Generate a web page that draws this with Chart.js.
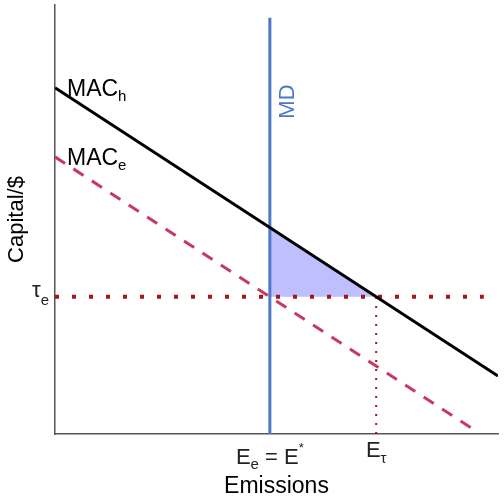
<!DOCTYPE html>
<html>
<head>
<meta charset="utf-8">
<script src="https://cdn.jsdelivr.net/npm/chart.js@4.4.1/dist/chart.umd.min.js"></script>
<style>
html,body{margin:0;padding:0;background:#fff;}
#wrap{width:504px;height:504px;position:relative;}
</style>
</head>
<body>
<div id="wrap"><canvas id="c" width="504" height="504"></canvas></div>
<script>
// ---- data ----
const xRange = [0, 10];
const yRange = [0, 10];
const macHx = [0, 10];
const macHy = [8.07, 1.35];
const macEx = [0, 9.5];
const macEy = [6.46, 0.07];
const mdX = [4.85, 4.85];
const mdY = [0, 9.7];
const tauX = [0, 9.68];
const tauY = [3.2, 3.2];
const eTauX = [7.25, 7.25];
const eTauY = [0, 3.2];
const shadeX = [4.85, 7.25];
const shadeY = [4.81, 3.2];
const shadeBase = 3.2;
const xTickVals = [4.85, 7.25];
const yTickVals = [3.2];
const mdLabelY = 7.75;

const FONT = "'Liberation Sans', Arial, sans-serif";
const BLUE = '#4d78c8';
const PINK = '#c63a60';
const DRED = '#a3141f';

function pts(xs, ys) { return xs.map((x, i) => ({x: x, y: ys[i]})); }

function drawRich(ctx, parts, x, y, align) {
  let w = 0;
  parts.forEach(p => { ctx.font = p.size + 'px ' + FONT; p.w = ctx.measureText(p.text).width; w += p.w; });
  let cx = align === 'center' ? x - w / 2 : (align === 'right' ? x - w : x);
  ctx.textAlign = 'left';
  ctx.textBaseline = 'alphabetic';
  parts.forEach(p => {
    ctx.font = p.size + 'px ' + FONT;
    ctx.fillText(p.text, cx, y + (p.dy || 0));
    cx += p.w;
  });
}

const labelPlugin = {
  id: 'labels',
  afterDraw(chart) {
    const ctx = chart.ctx;
    const xs = chart.scales.x, ys = chart.scales.y;
    ctx.save();
    ctx.fillStyle = '#000';
    // curve labels
    drawRich(ctx, [{text: 'MAC', size: 23}, {text: 'h', size: 15, dy: 5}],
      xs.getPixelForValue(macHx[0]) + 12, ys.getPixelForValue(macHy[0]) + 8, 'left');
    drawRich(ctx, [{text: 'MAC', size: 23}, {text: 'e', size: 15, dy: 5}],
      xs.getPixelForValue(macEx[0]) + 12, ys.getPixelForValue(macEy[0]) + 8, 'left');
    // MD label
    ctx.save();
    ctx.translate(xs.getPixelForValue(mdX[0]) + 24, ys.getPixelForValue(mdLabelY));
    ctx.rotate(-Math.PI / 2);
    ctx.fillStyle = BLUE;
    ctx.font = '22px ' + FONT;
    ctx.textAlign = 'center';
    ctx.textBaseline = 'alphabetic';
    ctx.fillText('MD', 0, 0);
    ctx.restore();
    // tick labels
    ctx.fillStyle = '#222';
    const bottom = chart.chartArea.bottom;
    drawRich(ctx, [{text: 'E', size: 22}, {text: 'e', size: 15, dy: 5}, {text: ' = ', size: 22},
                   {text: 'E', size: 22}, {text: '*', size: 13, dy: -12}],
      xs.getPixelForValue(xTickVals[0]), bottom + 30, 'center');
    drawRich(ctx, [{text: 'E', size: 22}, {text: 'τ', size: 15, dy: 6}],
      xs.getPixelForValue(xTickVals[1]), bottom + 23, 'center');
    drawRich(ctx, [{text: 'τ', size: 22}, {text: 'e', size: 15, dy: 8}],
      chart.chartArea.left - 6, ys.getPixelForValue(yTickVals[0]), 'right');
    ctx.restore();
  }
};

new Chart(document.getElementById('c'), {
  type: 'scatter',
  data: {
    datasets: [
      {data: pts(macHx, macHy), showLine: true, borderColor: '#000', borderWidth: 3, pointRadius: 0, fill: false},
      {data: pts(macEx, macEy), showLine: true, borderColor: PINK, borderWidth: 3, borderDash: [12, 10], pointRadius: 0, fill: false},
      {data: pts(tauX, tauY), showLine: true, borderColor: DRED, borderWidth: 4, borderDash: [4, 13], pointRadius: 0, fill: false},
      {data: pts(mdX, mdY), showLine: true, borderColor: BLUE, borderWidth: 3, pointRadius: 0, fill: false},
      {data: pts(eTauX, eTauY), showLine: true, borderColor: DRED, borderWidth: 2, borderDash: [2, 7], pointRadius: 0, fill: false},
      {data: pts(shadeX, shadeY), showLine: true, borderWidth: 0, borderColor: 'rgba(0,0,0,0)', backgroundColor: '#bfbfff', pointRadius: 0, fill: {value: shadeBase}}
    ]
  },
  options: {
    responsive: false,
    animation: false,
    devicePixelRatio: 1,
    layout: {padding: {top: 5, right: 6, left: 0, bottom: 0}},
    plugins: {legend: {display: false}, tooltip: {enabled: false}},
    scales: {
      x: {
        type: 'linear', min: xRange[0], max: xRange[1],
        grid: {display: false},
        border: {display: true, color: '#555', width: 1.5},
        ticks: {display: false},
        title: {display: true, text: 'Emissions', color: '#000', font: {size: 23, family: FONT}, padding: {top: 0, bottom: 4}},
        afterFit(s) { s.height = 70; }
      },
      y: {
        type: 'linear', min: yRange[0], max: yRange[1],
        grid: {display: false},
        border: {display: true, color: '#555', width: 1.5},
        ticks: {display: false},
        title: {display: true, text: 'Capital/$', color: '#000', font: {size: 22, family: FONT}, padding: {top: 4, bottom: 0}},
        afterFit(s) { s.width = 55; }
      }
    }
  },
  plugins: [labelPlugin]
});
</script>
</body>
</html>
